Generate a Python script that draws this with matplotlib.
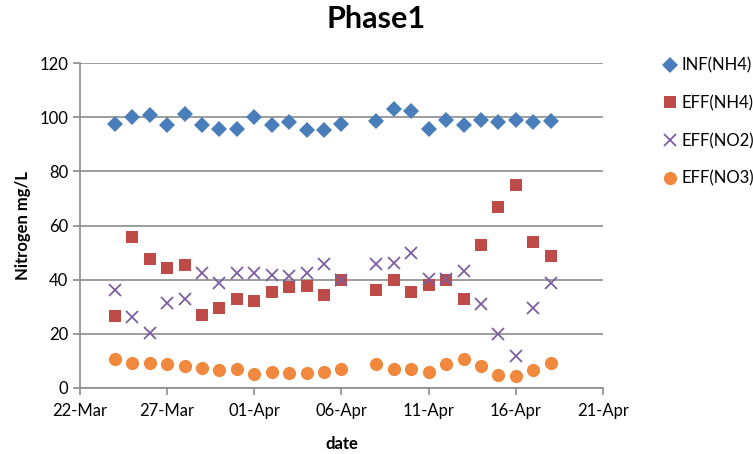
import numpy as np
import pandas as pd
import matplotlib
matplotlib.use("Agg")
from matplotlib import pyplot as plt
import matplotlib.dates as mdates

plt.rcParams['font.family'] = ['Lato', 'DejaVu Sans']

# sampling days: 24-Mar..06-Apr, then 08-Apr..18-Apr (no sample on 07-Apr)
dates = list(pd.date_range("2013-03-24", "2013-04-06")) + list(pd.date_range("2013-04-08", "2013-04-18"))

inf_nh4 = [97.4, 100.2, 100.8, 97.0, 101.0, 97.1, 95.8, 95.5, 100.1, 97.1, 98.3, 95.3, 95.2, 97.4,
           98.7, 103.2, 102.3, 95.8, 99.0, 97.1, 99.1, 98.3, 99.0, 98.2, 98.4]
eff_nh4 = [26.6, 55.7, 47.6, 44.4, 45.5, 27.0, 29.7, 32.8, 32.1, 35.3, 37.3, 37.6, 34.5, 39.9,
           36.2, 40.0, 35.4, 37.9, 40.0, 33.0, 52.8, 66.7, 74.9, 54.0, 48.7]
eff_no2 = [36.3, 26.3, 20.3, 31.5, 33.0, 42.3, 38.8, 42.6, 42.6, 41.8, 41.5, 42.4, 45.9, 40.0,
           45.7, 46.2, 49.8, 40.2, 40.2, 43.1, 31.2, 20.1, 12.0, 29.7, 38.8]
eff_no3 = [10.6, 9.2, 9.4, 8.9, 8.0, 7.3, 6.8, 7.1, 5.1, 5.8, 5.4, 5.5, 5.8, 7.2,
           8.9, 7.1, 7.1, 5.8, 8.8, 10.6, 8.2, 4.8, 4.3, 6.8, 9.4]

series = [
    ("INF(NH4)", inf_nh4, "D", "#4A7EBB", 8),
    ("EFF(NH4)", eff_nh4, "s", "#BE4B48", 9),
    ("EFF(NO2)", eff_no2, "x", "#7D5FA0", 9),
    ("EFF(NO3)", eff_no3, "o", "#F0883E", 9.5),
]

fig = plt.figure(figsize=(7.53, 4.54), dpi=100)
ax = fig.add_axes([80/753, 66/454, 523/753, 325/454])

for label, vals, mk, col, ms in series:
    if mk == "x":
        ax.plot(dates, vals, linestyle="none", marker=mk, color=col, markersize=ms,
                markeredgewidth=1.3, label=label, zorder=3)
    else:
        ax.plot(dates, vals, linestyle="none", marker=mk, color=col, markersize=ms,
                markeredgewidth=0, label=label, zorder=3)

ax.set_ylim(0, 120)
ax.set_yticks(np.arange(0, 121, 20))
ax.set_xlim(pd.Timestamp("2013-03-22"), pd.Timestamp("2013-04-21"))
ax.set_xticks(pd.date_range("2013-03-22", "2013-04-21", freq="5D"))
ax.xaxis.set_major_formatter(mdates.DateFormatter("%d-%b"))

ax.grid(axis="y", color="#8C8C8C", linewidth=1.2)
ax.set_axisbelow(True)
for side in ["top", "right"]:
    ax.spines[side].set_visible(False)
for side in ["left", "bottom"]:
    ax.spines[side].set_color("#8C8C8C")
    ax.spines[side].set_linewidth(1.2)
ax.tick_params(axis="both", colors="#8C8C8C", labelcolor="black", labelsize=12, length=5, width=1.2)
ax.tick_params(axis="x", pad=6)

ax.set_xlabel("date", fontsize=12, fontweight="bold", labelpad=12)
ax.set_ylabel("Nitrogen mg/L", fontsize=12, fontweight="bold", labelpad=6)
fig.suptitle("Phase1", fontsize=22, fontweight="bold", x=0.5, y=0.99)

ax.legend(loc="upper left", bbox_to_anchor=(655/753, 405/454), bbox_transform=fig.transFigure,
          frameon=False, fontsize=12, labelspacing=1.3, handlelength=0.8,
          handletextpad=0.3, borderpad=0)

fig.savefig("out.png", dpi=100)
